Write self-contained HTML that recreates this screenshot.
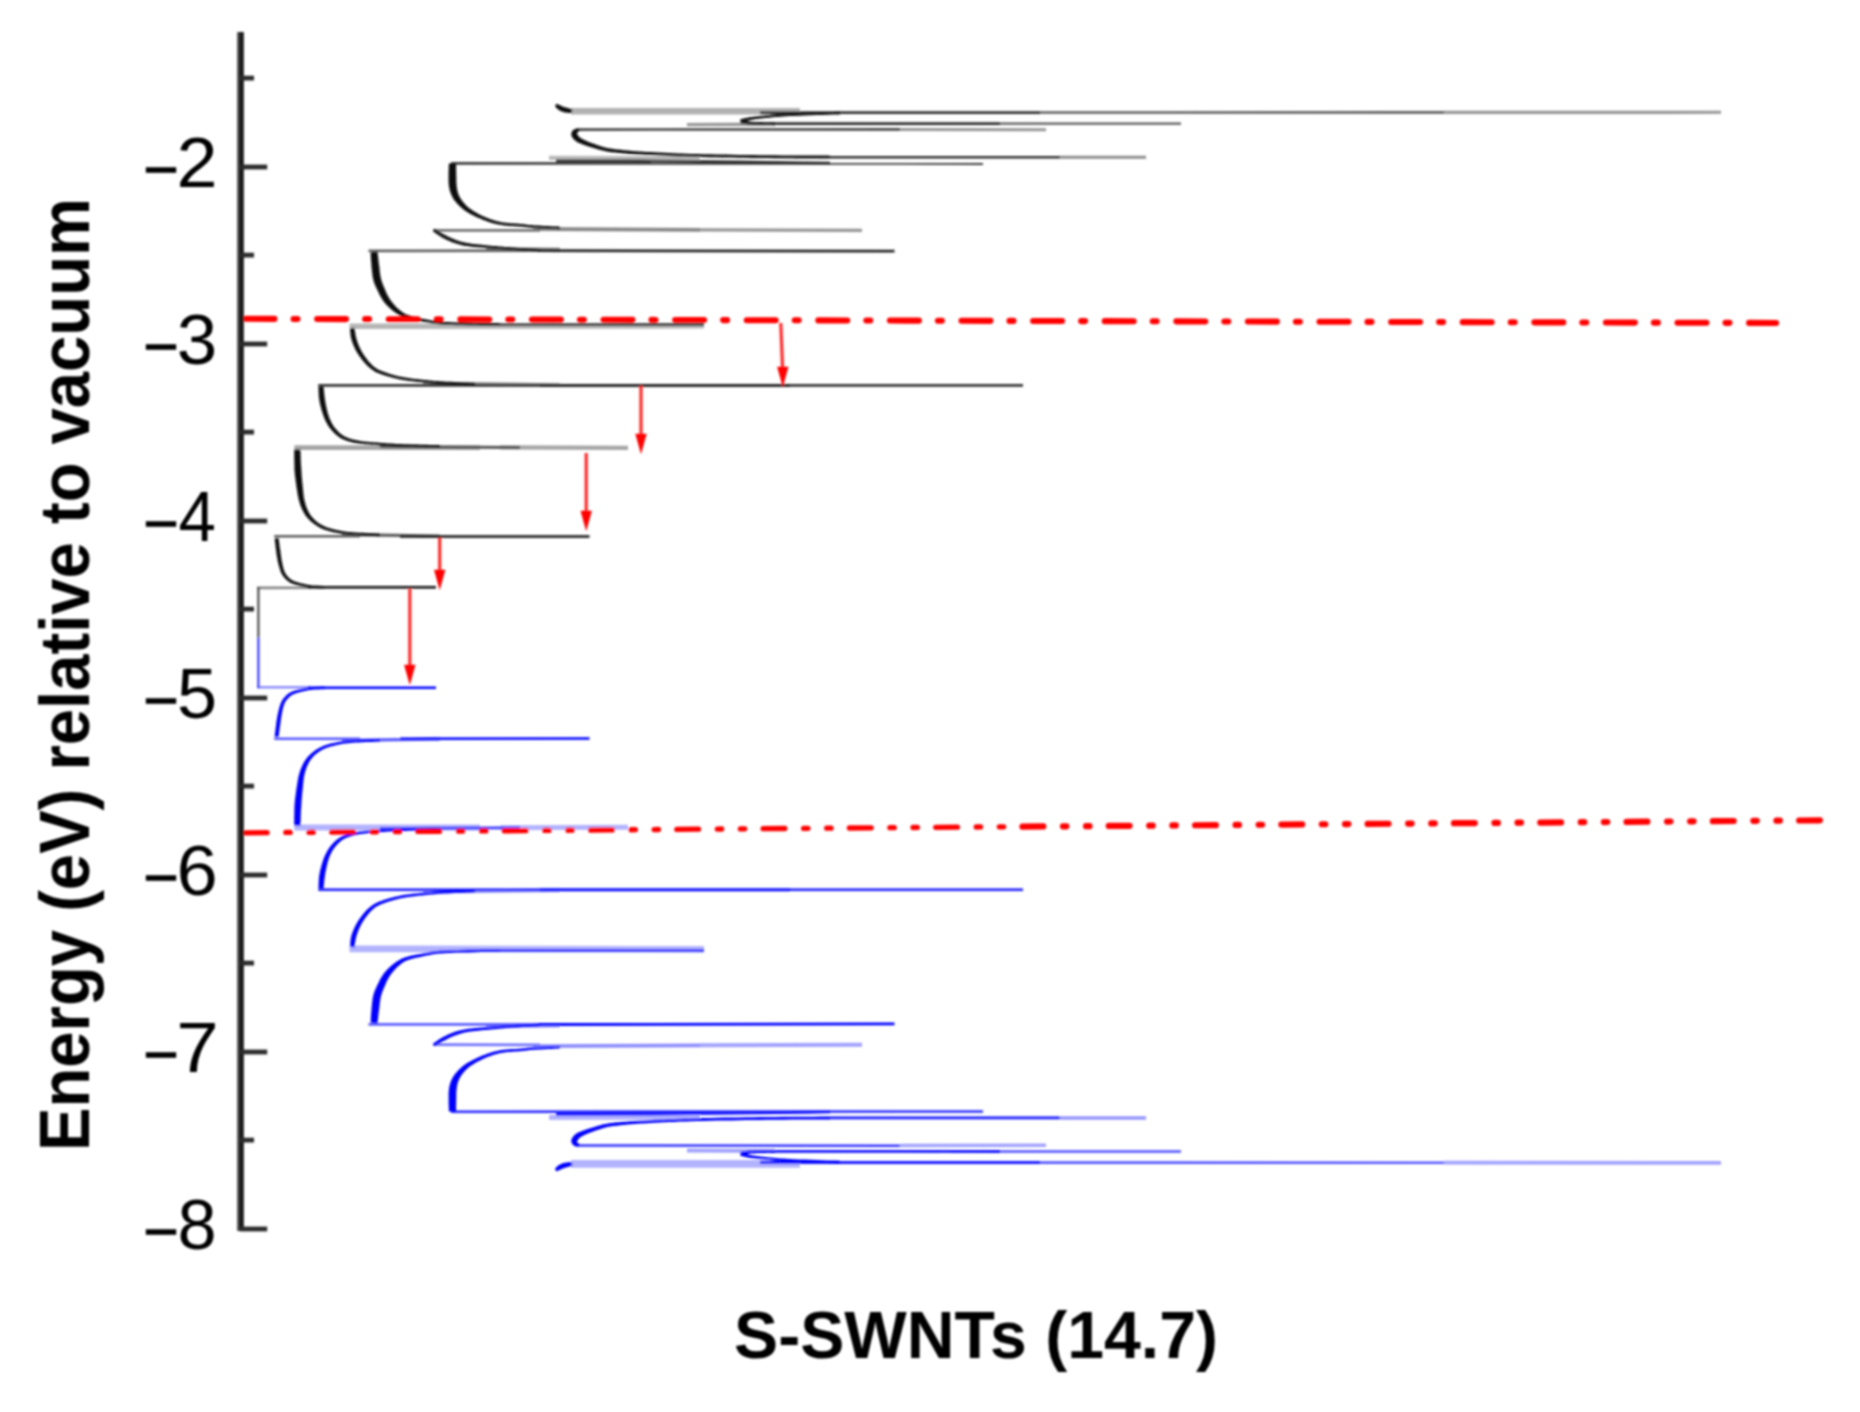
<!DOCTYPE html>
<html lang="en"><head><meta charset="utf-8"><title>S-SWNTs (14.7)</title>
<style>
html,body{margin:0;padding:0;background:#fff;}
body{width:1860px;height:1412px;overflow:hidden;}
svg{display:block;font-family:"Liberation Sans",sans-serif;}
</style></head><body>
<svg width="1860" height="1412" viewBox="0 0 1860 1412">
<defs><filter id="b" x="-2%" y="-2%" width="104%" height="104%"><feGaussianBlur stdDeviation="0.85"/></filter></defs>
<rect width="1860" height="1412" fill="#fff"/>
<g filter="url(#b)">
<g fill="none" stroke-linecap="butt" stroke-linejoin="round">
<path d="M549.0,157.8 L700.0,158.2" stroke="rgb(185,185,185)" stroke-width="4.32"/>
<path d="M349.5,326.3 L704.0,325.8" stroke="rgb(182,182,182)" stroke-width="5.52"/>
<path d="M571.0,111.3 L800.0,111.3" stroke="rgb(178,178,178)" stroke-width="6.48"/>
<path d="M500.0,447.4 L628.0,447.9" stroke="rgb(165,165,165)" stroke-width="4.08"/>
<path d="M294.4,447.6 L480.0,447.6" stroke="rgb(165,165,165)" stroke-width="4.8"/>
<path d="M1444.0,112.4 L1721.0,112.3" stroke="rgb(150,150,150)" stroke-width="3.12"/>
<path d="M687.0,124.6 L775.0,124.2" stroke="rgb(150,150,150)" stroke-width="3.36"/>
<path d="M900.0,129.5 L1046.0,129.8" stroke="rgb(150,150,150)" stroke-width="2.88"/>
<path d="M700.0,229.9 L862.0,230.4" stroke="rgb(150,150,150)" stroke-width="3.36"/>
<path d="M1060.0,157.2 L1146.0,157.2" stroke="rgb(140,140,140)" stroke-width="2.88"/>
<path d="M533.0,229.0 L700.0,229.8" stroke="rgb(135,135,135)" stroke-width="3.8"/>
<path d="M257.1,587.9 L312.0,587.8" stroke="rgb(135,135,135)" stroke-width="2.6"/>
<path d="M423.0,383.4 L560.0,385.0" stroke="rgb(130,130,130)" stroke-width="3.6"/>
<path d="M486.0,249.4 L560.0,250.0" stroke="rgb(125,125,125)" stroke-width="4.4"/>
<path d="M433.0,230.4 L540.0,230.3" stroke="rgb(115,115,115)" stroke-width="2.8"/>
<path d="M368.5,250.8 L540.0,250.7" stroke="rgb(100,100,100)" stroke-width="2.8"/>
<path d="M1040.0,112.5 L1444.0,112.4" stroke="rgb(95,95,95)" stroke-width="2.6"/>
<path d="M342.0,534.6 L440.0,536.0" stroke="rgb(95,95,95)" stroke-width="3.2"/>
<path d="M274.2,536.3 L360.0,536.3" stroke="rgb(95,95,95)" stroke-width="2.6"/>
<path d="M1000.0,123.6 L1181.0,123.6" stroke="rgb(90,90,90)" stroke-width="2.4"/>
<path d="M380.0,446.6 L520.0,447.4" stroke="rgb(85,85,85)" stroke-width="3.0"/>
<path d="M258.4,587.0 L258.4,637.5" stroke="rgb(72,72,72)" stroke-width="2.2"/>
<path d="M577.0,129.6 L900.0,129.4" stroke="rgb(70,70,70)" stroke-width="2.6"/>
<path d="M451.0,163.4 L983.0,163.6" stroke="rgb(62,62,62)" stroke-width="2.6"/>
<path d="M480.0,324.7 L704.0,324.6" stroke="rgb(60,60,60)" stroke-width="2.6"/>
<path d="M318.3,385.4 L1023.0,385.4" stroke="rgb(52,52,52)" stroke-width="2.6"/>
<path d="M760.0,112.6 L1040.0,112.6" stroke="rgb(50,50,50)" stroke-width="2.8"/>
<path d="M830.0,157.2 L1060.0,157.2" stroke="rgb(50,50,50)" stroke-width="2.6"/>
<path d="M770.0,123.7 L1000.0,123.6" stroke="rgb(45,45,45)" stroke-width="2.8"/>
<path d="M556.0,160.8 C584.0,160.9 578.7,160.6 640.0,161.0 C701.3,161.4 676.7,161.3 740.0,162.0 C803.3,162.7 800.0,162.8 830.0,163.2" stroke="rgb(45,45,45)" stroke-width="2.8"/>
<path d="M540.0,385.3 L790.0,385.3" stroke="rgb(40,40,40)" stroke-width="2.8"/>
<path d="M538.0,250.6 L894.5,251.2" stroke="rgb(35,35,35)" stroke-width="2.8"/>
<path d="M741.1,123.0 L741.5,122.9 L741.9,122.7 L742.3,122.6 L742.9,122.4 L743.4,122.2 L744.0,122.0 L744.6,121.8 L745.3,121.6 L745.8,121.4 L746.4,121.2 L747.0,121.0 L747.5,120.9 L747.9,120.7 L748.4,120.6 L748.9,120.4 L749.4,120.3 L750.0,120.2 L750.6,120.0 L751.4,119.9 L752.2,119.7 L753.2,119.6 L754.2,119.4 L755.2,119.3 L756.3,119.1 L757.5,118.9 L758.8,118.8 L760.2,118.6 L761.7,118.4 L763.3,118.3 L765.1,118.1 L767.0,117.9 L769.0,117.7 L771.0,117.5 L773.1,117.3 L775.3,117.1 L777.7,116.9 L780.4,116.7 L783.3,116.5 L786.5,116.3 L790.1,116.1 L794.3,115.9 L799.3,115.7 L804.8,115.5 L810.6,115.3 L816.6,115.1 L822.4,114.9 L827.9,114.7 L832.8,114.6 L837.0,114.5 L840.0,114.4 L840.0,111.6 L836.9,111.7 L832.8,111.9 L827.8,112.0 L822.4,112.2 L816.5,112.4 L810.6,112.5 L804.7,112.7 L799.1,112.9 L794.2,113.1 L789.9,113.3 L786.4,113.5 L783.1,113.7 L780.2,113.9 L777.5,114.1 L775.1,114.3 L772.8,114.5 L770.7,114.8 L768.7,115.0 L766.8,115.1 L764.9,115.3 L763.0,115.5 L761.4,115.7 L759.8,115.8 L758.4,116.0 L757.1,116.2 L755.9,116.3 L754.8,116.5 L753.8,116.6 L752.8,116.7 L751.8,116.9 L750.9,117.0 L750.1,117.1 L749.4,117.2 L748.7,117.3 L748.2,117.5 L747.6,117.6 L747.1,117.7 L746.6,117.8 L746.1,117.9 L745.6,118.0 L745.0,118.1 L744.3,118.3 L743.7,118.5 L743.0,118.6 L742.4,118.8 L741.8,119.0 L741.3,119.1 L740.8,119.2 L740.4,119.3 L740.1,119.4 Z" fill="rgb(20,20,20)" stroke="none"/>
<path d="M740.1,123.0 L740.4,123.1 L740.8,123.1 L741.3,123.3 L741.8,123.4 L742.4,123.5 L743.0,123.6 L743.7,123.8 L744.4,123.9 L745.0,124.0 L745.7,124.1 L746.3,124.2 L746.7,124.3 L747.2,124.3 L747.7,124.4 L748.2,124.5 L748.9,124.5 L749.6,124.6 L750.5,124.6 L751.6,124.7 L752.9,124.7 L754.6,124.8 L756.8,124.8 L759.2,124.9 L761.7,125.0 L764.4,125.0 L767.0,125.0 L769.5,125.1 L771.7,125.1 L773.6,125.2 L775.0,125.2 L775.0,122.4 L773.7,122.4 L771.8,122.4 L769.6,122.3 L767.1,122.3 L764.5,122.2 L761.8,122.1 L759.2,122.1 L756.8,122.0 L754.7,121.9 L753.1,121.9 L751.8,121.8 L750.7,121.7 L749.9,121.6 L749.2,121.5 L748.7,121.4 L748.2,121.3 L747.8,121.2 L747.4,121.1 L746.9,121.0 L746.3,120.9 L745.7,120.7 L745.1,120.6 L744.5,120.4 L743.9,120.3 L743.3,120.1 L742.8,119.9 L742.2,119.8 L741.8,119.6 L741.4,119.5 L741.1,119.4 Z" fill="rgb(20,20,20)" stroke="none"/>
<path d="M432.8,231.2 L433.4,231.6 L434.1,232.1 L435.0,232.8 L436.0,233.5 L437.0,234.2 L438.1,235.0 L439.3,235.8 L440.5,236.5 L441.7,237.3 L442.8,237.9 L444.0,238.5 L445.1,239.1 L446.3,239.7 L447.5,240.3 L448.7,240.8 L450.0,241.3 L451.2,241.9 L452.5,242.4 L453.7,242.8 L454.9,243.3 L456.1,243.6 L457.3,244.0 L458.4,244.3 L459.5,244.6 L460.7,244.9 L461.9,245.2 L463.1,245.4 L464.3,245.7 L465.6,245.9 L467.0,246.1 L468.5,246.3 L470.0,246.5 L471.4,246.7 L473.0,246.9 L474.6,247.0 L476.2,247.2 L477.9,247.3 L479.8,247.5 L481.7,247.6 L483.8,247.8 L486.0,248.0 L488.3,248.2 L490.8,248.4 L493.3,248.7 L496.0,248.9 L498.7,249.1 L501.5,249.3 L504.3,249.5 L507.1,249.7 L509.9,249.9 L512.9,250.1 L516.2,250.3 L519.6,250.5 L523.1,250.7 L526.6,250.9 L529.9,251.0 L533.0,251.2 L535.8,251.3 L538.1,251.4 L539.9,251.5 L540.1,248.9 L538.3,248.8 L535.9,248.7 L533.1,248.5 L530.0,248.4 L526.7,248.2 L523.2,248.0 L519.7,247.9 L516.3,247.7 L513.1,247.5 L510.1,247.3 L507.3,247.1 L504.5,246.9 L501.7,246.6 L498.9,246.4 L496.2,246.1 L493.6,245.9 L491.0,245.7 L488.6,245.4 L486.2,245.2 L484.0,245.0 L482.0,244.8 L480.0,244.6 L478.2,244.4 L476.5,244.2 L474.9,244.1 L473.3,243.9 L471.8,243.7 L470.4,243.5 L469.0,243.3 L467.6,243.1 L466.2,242.8 L464.9,242.6 L463.7,242.3 L462.6,242.0 L461.5,241.7 L460.4,241.4 L459.4,241.1 L458.3,240.7 L457.2,240.4 L456.1,239.9 L454.9,239.5 L453.8,239.0 L452.6,238.6 L451.4,238.0 L450.2,237.5 L449.1,237.0 L447.9,236.4 L446.8,235.8 L445.7,235.2 L444.6,234.7 L443.5,234.1 L442.3,233.5 L441.1,232.8 L440.0,232.1 L438.8,231.4 L437.7,230.8 L436.7,230.2 L435.8,229.6 L435.0,229.1 L434.4,228.8 Z" fill="rgb(20,20,20)" stroke="none"/>
<path d="M400.0,536.4 L589.5,536.6" stroke="rgb(20,20,20)" stroke-width="2.5"/>
<path d="M578.5,128.4 L578.3,128.4 L578.1,128.4 L577.7,128.4 L577.2,128.5 L576.8,128.5 L576.2,128.6 L575.7,128.7 L575.1,128.9 L574.5,129.2 L573.9,129.5 L573.5,129.9 L573.1,130.2 L572.7,130.6 L572.3,131.1 L572.0,131.6 L571.7,132.2 L571.5,132.9 L571.3,133.6 L571.2,134.4 L571.3,135.2 L571.6,135.9 L571.9,136.6 L572.2,137.2 L572.6,137.8 L573.0,138.4 L573.5,139.0 L574.0,139.6 L574.6,140.1 L575.1,140.6 L575.8,141.1 L576.4,141.6 L577.1,142.0 L577.8,142.4 L578.5,142.7 L579.2,143.0 L579.9,143.3 L580.7,143.6 L581.5,143.9 L582.3,144.2 L583.1,144.5 L584.0,144.9 L584.9,145.2 L585.9,145.5 L586.8,145.9 L587.9,146.2 L588.9,146.5 L590.0,146.9 L591.1,147.2 L592.2,147.5 L593.4,147.9 L594.6,148.2 L595.7,148.6 L597.0,149.0 L598.2,149.4 L599.5,149.7 L600.9,150.1 L602.2,150.5 L603.7,150.8 L605.1,151.1 L606.7,151.4 L608.2,151.7 L609.8,152.0 L611.5,152.2 L613.2,152.4 L614.9,152.6 L616.7,152.8 L618.5,152.9 L620.2,153.1 L622.0,153.3 L623.8,153.4 L625.5,153.6 L627.1,153.7 L628.5,153.9 L629.9,154.0 L631.4,154.1 L633.1,154.2 L635.0,154.3 L637.2,154.4 L639.8,154.6 L642.9,154.7 L646.5,154.9 L650.3,155.1 L654.5,155.3 L659.0,155.5 L663.8,155.7 L668.8,156.0 L674.1,156.2 L679.5,156.4 L685.2,156.6 L691.0,156.7 L697.0,156.9 L703.4,157.1 L710.1,157.2 L717.0,157.3 L724.1,157.5 L731.3,157.6 L738.5,157.7 L745.8,157.8 L752.9,157.9 L760.0,158.0 L767.3,158.1 L775.0,158.2 L783.1,158.3 L791.3,158.3 L799.3,158.4 L807.0,158.4 L814.1,158.4 L820.5,158.5 L825.8,158.5 L830.0,158.5 L830.0,155.7 L825.8,155.6 L820.5,155.6 L814.1,155.6 L807.0,155.5 L799.3,155.5 L791.3,155.5 L783.1,155.4 L775.1,155.3 L767.3,155.3 L760.0,155.2 L753.0,155.1 L745.8,155.0 L738.6,154.9 L731.3,154.7 L724.2,154.6 L717.1,154.5 L710.2,154.3 L703.5,154.2 L697.1,154.0 L691.0,153.9 L685.3,153.7 L679.6,153.5 L674.2,153.2 L669.0,153.0 L663.9,152.8 L659.2,152.5 L654.7,152.3 L650.5,152.1 L646.6,151.9 L643.1,151.7 L640.0,151.5 L637.4,151.3 L635.2,151.2 L633.3,151.0 L631.7,150.9 L630.2,150.8 L628.8,150.6 L627.4,150.5 L625.8,150.3 L624.2,150.2 L622.4,150.0 L620.6,149.8 L618.8,149.6 L617.0,149.4 L615.3,149.2 L613.6,149.0 L612.0,148.8 L610.4,148.5 L608.8,148.3 L607.3,148.0 L605.9,147.7 L604.5,147.3 L603.2,146.9 L601.9,146.6 L600.6,146.2 L599.4,145.7 L598.1,145.3 L596.9,144.9 L595.8,144.5 L594.6,144.1 L593.5,143.7 L592.4,143.3 L591.3,142.9 L590.3,142.5 L589.3,142.2 L588.4,141.8 L587.4,141.4 L586.6,141.0 L585.7,140.6 L584.9,140.3 L584.1,139.9 L583.4,139.5 L582.7,139.2 L582.1,138.8 L581.5,138.5 L580.9,138.2 L580.4,137.8 L580.0,137.5 L579.6,137.2 L579.2,136.9 L578.9,136.5 L578.6,136.2 L578.3,135.8 L578.0,135.4 L577.8,135.1 L577.6,134.7 L577.5,134.4 L577.3,134.1 L577.3,133.9 L577.3,133.8 L577.2,133.8 L577.1,133.9 L577.1,133.9 L577.0,133.8 L577.0,133.7 L576.9,133.6 L577.0,133.4 L577.0,133.2 L577.1,133.0 L577.1,132.9 L577.0,132.8 L577.1,132.7 L577.3,132.5 L577.6,132.3 L577.9,132.1 L578.2,131.9 L578.6,131.7 L578.9,131.5 L579.2,131.3 L579.5,131.2 Z" fill="rgb(15,15,15)" stroke="none"/>
<path d="M349.9,328.3 L350.0,328.9 L350.0,329.7 L350.1,330.7 L350.2,331.8 L350.3,333.0 L350.5,334.2 L350.6,335.5 L350.8,336.8 L351.1,338.1 L351.4,339.3 L351.7,340.5 L352.1,341.6 L352.5,342.8 L353.0,343.9 L353.4,345.1 L353.9,346.2 L354.4,347.3 L354.9,348.4 L355.4,349.4 L355.9,350.4 L356.5,351.4 L357.0,352.4 L357.6,353.3 L358.1,354.2 L358.7,355.1 L359.3,355.9 L359.9,356.8 L360.5,357.6 L361.1,358.4 L361.7,359.2 L362.4,360.1 L363.0,360.9 L363.7,361.7 L364.3,362.5 L365.0,363.2 L365.7,364.0 L366.4,364.8 L367.1,365.5 L367.9,366.2 L368.6,366.9 L369.4,367.5 L370.1,368.1 L370.8,368.7 L371.5,369.3 L372.3,369.8 L373.1,370.3 L373.9,370.9 L374.7,371.4 L375.7,371.9 L376.7,372.4 L377.7,372.9 L378.8,373.3 L380.0,373.8 L381.2,374.2 L382.4,374.7 L383.7,375.1 L385.0,375.5 L386.2,375.9 L387.5,376.3 L388.8,376.6 L390.0,377.0 L391.3,377.3 L392.5,377.7 L393.8,378.0 L395.1,378.3 L396.4,378.6 L397.7,378.9 L399.1,379.2 L400.5,379.5 L401.9,379.8 L403.4,380.0 L404.9,380.3 L406.4,380.5 L408.0,380.7 L409.5,380.9 L411.1,381.1 L412.8,381.3 L414.5,381.5 L416.3,381.7 L418.2,381.9 L420.0,382.1 L421.9,382.3 L423.8,382.5 L425.8,382.7 L427.8,383.0 L430.0,383.2 L432.2,383.4 L434.6,383.5 L437.2,383.7 L439.9,383.9 L443.0,384.1 L446.6,384.3 L450.6,384.5 L454.7,384.7 L458.8,384.8 L462.8,385.0 L466.6,385.2 L470.0,385.3 L472.8,385.4 L474.9,385.5 L475.1,382.9 L472.9,382.8 L470.1,382.7 L466.7,382.5 L462.9,382.4 L458.9,382.2 L454.8,382.0 L450.7,381.8 L446.8,381.7 L443.2,381.5 L440.1,381.3 L437.4,381.1 L434.8,380.9 L432.4,380.7 L430.2,380.5 L428.1,380.3 L426.1,380.1 L424.1,379.9 L422.2,379.7 L420.3,379.5 L418.4,379.3 L416.6,379.1 L414.8,378.9 L413.1,378.7 L411.5,378.5 L409.9,378.2 L408.3,378.0 L406.8,377.8 L405.3,377.6 L403.9,377.3 L402.5,377.0 L401.0,376.8 L399.7,376.5 L398.3,376.2 L397.0,375.9 L395.8,375.5 L394.5,375.2 L393.3,374.9 L392.1,374.5 L390.9,374.2 L389.6,373.8 L388.4,373.4 L387.2,373.0 L385.9,372.6 L384.7,372.1 L383.5,371.7 L382.3,371.3 L381.2,370.8 L380.1,370.4 L379.1,369.9 L378.1,369.4 L377.3,368.9 L376.5,368.5 L375.7,368.0 L375.0,367.5 L374.4,367.0 L373.7,366.5 L373.1,365.9 L372.5,365.4 L371.8,364.8 L371.2,364.1 L370.5,363.5 L369.9,362.8 L369.3,362.1 L368.6,361.4 L368.0,360.7 L367.4,359.9 L366.8,359.1 L366.2,358.3 L365.7,357.6 L365.1,356.8 L364.5,356.0 L364.0,355.2 L363.4,354.3 L362.9,353.5 L362.4,352.7 L361.9,351.9 L361.4,351.0 L361.0,350.2 L360.5,349.3 L360.1,348.4 L359.6,347.4 L359.2,346.4 L358.7,345.4 L358.3,344.3 L357.9,343.3 L357.5,342.2 L357.2,341.2 L356.8,340.1 L356.5,339.1 L356.2,338.1 L356.0,337.0 L355.7,335.9 L355.5,334.8 L355.3,333.6 L355.1,332.4 L355.0,331.2 L354.8,330.2 L354.7,329.2 L354.6,328.4 L354.5,327.7 Z" fill="rgb(15,15,15)" stroke="none"/>
<path d="M274.6,538.4 L274.7,539.3 L274.9,540.4 L275.0,541.8 L275.2,543.3 L275.4,544.9 L275.6,546.6 L275.8,548.2 L276.0,549.8 L276.2,551.3 L276.3,552.7 L276.5,553.9 L276.7,555.1 L276.9,556.2 L277.1,557.3 L277.3,558.3 L277.4,559.4 L277.6,560.4 L277.9,561.4 L278.1,562.4 L278.3,563.4 L278.6,564.4 L278.8,565.5 L279.1,566.5 L279.4,567.5 L279.7,568.5 L280.0,569.5 L280.3,570.5 L280.6,571.5 L281.0,572.4 L281.4,573.2 L281.8,574.1 L282.3,574.9 L282.7,575.6 L283.2,576.3 L283.7,576.9 L284.2,577.6 L284.8,578.2 L285.3,578.7 L285.8,579.3 L286.3,579.8 L286.9,580.3 L287.4,580.7 L288.0,581.2 L288.5,581.6 L289.1,582.0 L289.7,582.4 L290.3,582.7 L291.0,583.1 L291.7,583.4 L292.4,583.7 L293.2,584.0 L294.0,584.3 L294.8,584.6 L295.7,584.9 L296.6,585.1 L297.5,585.3 L298.4,585.6 L299.3,585.8 L300.3,586.0 L301.2,586.2 L302.1,586.4 L302.9,586.6 L303.8,586.8 L304.7,587.0 L305.6,587.2 L306.6,587.4 L307.6,587.5 L308.6,587.7 L309.7,587.8 L310.9,588.0 L312.2,588.1 L313.6,588.2 L315.2,588.3 L316.9,588.3 L318.5,588.4 L320.1,588.5 L321.6,588.5 L323.0,588.6 L324.1,588.6 L324.9,588.6 L325.1,586.0 L324.2,585.9 L323.1,585.9 L321.7,585.8 L320.2,585.8 L318.6,585.7 L317.0,585.6 L315.4,585.6 L313.8,585.5 L312.4,585.4 L311.1,585.2 L310.0,585.1 L309.0,585.0 L308.0,584.8 L307.1,584.6 L306.2,584.4 L305.3,584.2 L304.5,584.0 L303.6,583.8 L302.7,583.6 L301.8,583.4 L300.9,583.2 L300.0,583.0 L299.1,582.7 L298.3,582.5 L297.4,582.2 L296.6,582.0 L295.8,581.7 L295.0,581.5 L294.3,581.2 L293.6,580.9 L293.0,580.6 L292.4,580.3 L291.9,580.0 L291.4,579.7 L290.9,579.4 L290.4,579.0 L290.0,578.7 L289.6,578.3 L289.1,577.9 L288.7,577.4 L288.2,576.9 L287.7,576.4 L287.3,575.9 L286.9,575.4 L286.4,574.9 L286.0,574.3 L285.6,573.7 L285.3,573.1 L284.9,572.4 L284.6,571.8 L284.3,571.0 L284.0,570.2 L283.7,569.4 L283.5,568.5 L283.2,567.5 L283.0,566.6 L282.7,565.6 L282.5,564.6 L282.3,563.6 L282.1,562.6 L281.9,561.6 L281.7,560.6 L281.5,559.7 L281.4,558.7 L281.2,557.7 L281.1,556.6 L280.9,555.6 L280.8,554.5 L280.6,553.3 L280.5,552.1 L280.3,550.8 L280.1,549.3 L279.8,547.7 L279.6,546.0 L279.4,544.4 L279.2,542.8 L279.0,541.3 L278.8,539.9 L278.7,538.8 L278.6,538.0 Z" fill="rgb(15,15,15)" stroke="none"/>
<path d="M554.9,105.9 L555.0,106.1 L555.2,106.4 L555.4,106.6 L555.6,107.0 L555.9,107.3 L556.2,107.7 L556.6,108.1 L557.0,108.5 L557.4,108.9 L557.8,109.3 L558.2,109.6 L558.7,109.8 L559.1,110.1 L559.6,110.4 L560.1,110.7 L560.7,111.0 L561.3,111.2 L561.9,111.5 L562.6,111.8 L563.3,112.0 L564.1,112.2 L565.0,112.4 L565.9,112.5 L566.9,112.7 L567.9,112.8 L568.8,112.9 L569.7,113.0 L570.5,113.1 L571.1,113.2 L571.6,113.3 L572.4,109.1 L571.9,109.0 L571.2,108.8 L570.5,108.7 L569.6,108.5 L568.7,108.3 L567.8,108.1 L566.9,107.8 L566.1,107.6 L565.3,107.4 L564.7,107.2 L564.2,107.0 L563.7,106.9 L563.2,106.7 L562.7,106.5 L562.3,106.3 L561.8,106.1 L561.4,105.9 L561.0,105.7 L560.6,105.5 L560.2,105.3 L559.8,105.2 L559.4,105.0 L559.0,104.9 L558.7,104.7 L558.3,104.5 L557.9,104.3 L557.6,104.1 L557.3,103.9 L557.0,103.8 L556.7,103.7 Z" fill="rgb(12,12,12)" stroke="none"/>
<path d="M448.9,163.5 L448.9,164.2 L448.8,165.2 L448.8,166.3 L448.8,167.6 L448.7,169.0 L448.7,170.4 L448.6,171.9 L448.6,173.3 L448.6,174.6 L448.6,175.8 L448.6,176.9 L448.6,178.0 L448.6,179.1 L448.6,180.2 L448.6,181.2 L448.6,182.3 L448.7,183.3 L448.8,184.4 L448.9,185.5 L449.0,186.5 L449.2,187.5 L449.4,188.5 L449.6,189.5 L449.9,190.5 L450.1,191.4 L450.4,192.4 L450.7,193.3 L451.1,194.2 L451.5,195.1 L451.8,196.0 L452.3,196.8 L452.7,197.6 L453.2,198.4 L453.6,199.2 L454.1,199.9 L454.7,200.6 L455.2,201.3 L455.8,202.0 L456.4,202.7 L457.0,203.4 L457.6,204.1 L458.3,204.8 L459.0,205.5 L459.7,206.2 L460.5,206.9 L461.2,207.6 L462.0,208.3 L462.9,209.0 L463.7,209.7 L464.6,210.3 L465.4,210.9 L466.3,211.5 L467.2,212.1 L468.1,212.6 L469.0,213.2 L469.9,213.7 L470.9,214.2 L471.8,214.7 L472.8,215.2 L473.8,215.7 L474.8,216.2 L475.8,216.7 L476.9,217.2 L477.9,217.7 L479.0,218.1 L480.1,218.6 L481.2,219.1 L482.2,219.5 L483.3,219.9 L484.4,220.3 L485.4,220.7 L486.5,221.1 L487.6,221.5 L488.6,221.9 L489.7,222.2 L490.8,222.6 L491.8,222.9 L492.9,223.2 L494.0,223.5 L495.0,223.7 L496.1,224.0 L497.1,224.2 L498.1,224.4 L499.0,224.6 L500.0,224.8 L501.0,225.0 L502.1,225.1 L503.2,225.3 L504.3,225.4 L505.5,225.6 L506.9,225.7 L508.3,225.8 L509.7,225.9 L511.2,226.0 L512.8,226.1 L514.3,226.2 L515.8,226.2 L517.3,226.3 L518.8,226.4 L520.2,226.5 L521.4,226.6 L522.6,226.8 L523.6,226.9 L524.7,227.0 L525.7,227.2 L526.8,227.3 L528.1,227.5 L529.4,227.6 L531.0,227.8 L532.9,227.9 L535.2,228.1 L537.8,228.2 L540.8,228.4 L544.0,228.5 L547.2,228.7 L550.4,228.9 L553.4,229.0 L556.0,229.1 L558.3,229.2 L559.9,229.3 L560.1,226.7 L558.4,226.6 L556.2,226.5 L553.5,226.4 L550.5,226.2 L547.4,226.1 L544.1,225.9 L541.0,225.7 L538.0,225.6 L535.3,225.4 L533.1,225.3 L531.3,225.1 L529.7,225.0 L528.3,224.9 L527.1,224.7 L526.1,224.6 L525.0,224.4 L524.0,224.3 L522.9,224.1 L521.7,224.0 L520.4,223.9 L519.0,223.8 L517.5,223.7 L516.0,223.6 L514.5,223.5 L512.9,223.4 L511.4,223.3 L509.9,223.2 L508.5,223.1 L507.1,223.0 L505.9,222.8 L504.7,222.7 L503.6,222.5 L502.5,222.4 L501.5,222.2 L500.5,222.0 L499.6,221.8 L498.7,221.6 L497.7,221.4 L496.8,221.1 L495.8,220.9 L494.8,220.6 L493.8,220.3 L492.7,219.9 L491.7,219.6 L490.7,219.2 L489.7,218.9 L488.7,218.5 L487.6,218.1 L486.6,217.7 L485.6,217.3 L484.6,216.8 L483.6,216.4 L482.5,215.9 L481.5,215.4 L480.5,214.9 L479.5,214.4 L478.5,213.9 L477.5,213.4 L476.5,212.8 L475.6,212.3 L474.7,211.8 L473.8,211.2 L472.9,210.7 L472.1,210.1 L471.2,209.6 L470.4,209.0 L469.7,208.5 L468.9,207.9 L468.2,207.3 L467.4,206.7 L466.8,206.1 L466.1,205.4 L465.4,204.7 L464.8,204.0 L464.2,203.3 L463.6,202.6 L463.0,201.9 L462.4,201.2 L461.9,200.5 L461.4,199.8 L461.0,199.1 L460.6,198.5 L460.2,197.9 L459.8,197.2 L459.5,196.6 L459.2,196.0 L458.9,195.4 L458.6,194.7 L458.4,194.1 L458.2,193.4 L457.9,192.7 L457.7,192.0 L457.5,191.2 L457.3,190.5 L457.2,189.7 L457.0,188.9 L456.9,188.0 L456.8,187.2 L456.7,186.3 L456.6,185.5 L456.5,184.6 L456.4,183.8 L456.4,182.9 L456.3,182.0 L456.3,181.0 L456.3,180.0 L456.3,179.0 L456.3,178.0 L456.3,176.9 L456.2,175.8 L456.2,174.6 L456.2,173.3 L456.2,171.9 L456.1,170.5 L456.1,169.1 L456.1,167.7 L456.1,166.4 L456.1,165.3 L456.1,164.3 L456.1,163.5 Z" fill="rgb(12,12,12)" stroke="none"/>
<path d="M370.6,252.3 L370.6,253.1 L370.7,254.2 L370.8,255.5 L370.8,256.9 L370.9,258.4 L371.0,260.0 L371.1,261.6 L371.3,263.2 L371.4,264.8 L371.5,266.2 L371.6,267.6 L371.8,268.9 L371.9,270.2 L372.0,271.6 L372.2,273.0 L372.4,274.3 L372.5,275.7 L372.7,277.0 L373.0,278.3 L373.2,279.6 L373.6,280.7 L373.9,281.9 L374.2,282.9 L374.6,283.9 L375.0,284.9 L375.4,285.8 L375.8,286.7 L376.2,287.6 L376.6,288.5 L377.1,289.5 L377.6,290.5 L378.1,291.5 L378.6,292.6 L379.1,293.7 L379.7,294.9 L380.3,296.0 L380.9,297.1 L381.5,298.2 L382.2,299.2 L382.8,300.2 L383.5,301.2 L384.1,302.0 L384.8,302.9 L385.5,303.7 L386.2,304.4 L386.8,305.2 L387.5,305.9 L388.2,306.6 L388.9,307.2 L389.6,307.9 L390.3,308.6 L391.0,309.2 L391.8,309.8 L392.5,310.4 L393.3,311.0 L394.0,311.6 L394.8,312.2 L395.6,312.8 L396.4,313.3 L397.2,313.8 L398.0,314.3 L398.7,314.7 L399.4,315.2 L400.2,315.6 L401.0,316.1 L401.9,316.5 L402.8,316.9 L403.9,317.3 L405.1,317.8 L406.5,318.2 L408.0,318.6 L409.6,319.0 L411.4,319.5 L413.3,319.9 L415.3,320.4 L417.4,320.8 L419.5,321.2 L421.6,321.6 L423.7,322.0 L425.7,322.3 L427.7,322.6 L429.4,323.0 L431.0,323.3 L432.7,323.5 L434.5,323.8 L436.4,324.0 L438.6,324.3 L441.1,324.5 L444.0,324.7 L447.4,324.9 L451.7,325.0 L456.8,325.2 L462.6,325.3 L468.8,325.5 L475.1,325.6 L481.3,325.7 L487.1,325.7 L492.3,325.8 L496.7,325.9 L500.0,325.9 L500.0,323.3 L496.8,323.2 L492.4,323.1 L487.2,323.1 L481.3,323.0 L475.1,322.9 L468.8,322.7 L462.7,322.6 L456.9,322.5 L451.8,322.3 L447.6,322.1 L444.2,321.9 L441.3,321.7 L438.8,321.5 L436.7,321.3 L434.9,321.0 L433.2,320.8 L431.5,320.5 L429.9,320.2 L428.2,319.8 L426.3,319.5 L424.2,319.1 L422.2,318.7 L420.1,318.2 L418.0,317.7 L416.0,317.3 L414.1,316.8 L412.3,316.3 L410.5,315.8 L409.0,315.3 L407.5,314.8 L406.3,314.4 L405.3,313.9 L404.4,313.5 L403.7,313.1 L403.0,312.6 L402.4,312.2 L401.8,311.8 L401.1,311.3 L400.5,310.7 L399.8,310.2 L399.1,309.6 L398.4,309.1 L397.8,308.5 L397.1,307.9 L396.5,307.3 L395.9,306.7 L395.3,306.1 L394.8,305.4 L394.2,304.8 L393.6,304.1 L393.0,303.4 L392.4,302.7 L391.9,302.0 L391.4,301.3 L390.8,300.6 L390.3,299.9 L389.8,299.2 L389.3,298.4 L388.9,297.6 L388.4,296.8 L387.9,295.9 L387.4,295.0 L386.9,294.0 L386.4,292.9 L386.0,291.9 L385.5,290.8 L385.0,289.7 L384.6,288.6 L384.1,287.6 L383.7,286.5 L383.3,285.6 L382.9,284.7 L382.6,283.8 L382.3,283.0 L382.0,282.1 L381.7,281.3 L381.4,280.5 L381.2,279.7 L381.0,278.8 L380.8,277.8 L380.5,276.8 L380.3,275.7 L380.2,274.6 L380.0,273.4 L379.8,272.1 L379.7,270.8 L379.6,269.4 L379.4,268.1 L379.3,266.7 L379.1,265.4 L378.9,264.0 L378.7,262.5 L378.5,260.9 L378.3,259.3 L378.2,257.8 L378.0,256.3 L377.8,254.8 L377.7,253.6 L377.5,252.5 L377.4,251.7 Z" fill="rgb(12,12,12)" stroke="none"/>
<path d="M318.5,386.8 L318.5,387.5 L318.5,388.5 L318.6,389.6 L318.6,390.9 L318.7,392.3 L318.7,393.7 L318.8,395.2 L318.9,396.6 L319.0,398.0 L319.2,399.3 L319.4,400.5 L319.6,401.6 L319.8,402.8 L320.0,403.9 L320.3,405.0 L320.5,406.1 L320.8,407.1 L321.1,408.2 L321.4,409.2 L321.6,410.3 L322.0,411.3 L322.3,412.3 L322.6,413.3 L322.9,414.3 L323.3,415.3 L323.6,416.3 L324.0,417.3 L324.4,418.3 L324.8,419.3 L325.3,420.2 L325.7,421.2 L326.2,422.1 L326.7,423.0 L327.2,423.9 L327.7,424.8 L328.2,425.7 L328.8,426.6 L329.4,427.4 L330.0,428.3 L330.7,429.1 L331.4,430.0 L332.1,430.8 L332.9,431.6 L333.7,432.5 L334.5,433.3 L335.3,434.0 L336.2,434.8 L337.0,435.5 L337.9,436.2 L338.8,436.8 L339.6,437.4 L340.5,437.9 L341.3,438.4 L342.2,438.9 L343.1,439.3 L344.0,439.7 L344.9,440.1 L345.9,440.5 L346.9,440.8 L347.9,441.2 L349.0,441.5 L350.1,441.8 L351.2,442.1 L352.4,442.4 L353.6,442.7 L354.8,442.9 L356.0,443.1 L357.3,443.4 L358.6,443.6 L360.0,443.8 L361.3,443.9 L362.7,444.1 L364.0,444.3 L365.4,444.4 L366.8,444.5 L368.3,444.6 L369.9,444.7 L371.5,444.9 L373.3,445.0 L375.2,445.1 L377.2,445.3 L379.3,445.4 L381.4,445.6 L383.7,445.8 L386.0,445.9 L388.5,446.1 L391.1,446.3 L393.9,446.4 L396.8,446.6 L399.9,446.7 L403.5,446.8 L407.6,447.0 L412.1,447.1 L416.8,447.2 L421.5,447.3 L426.1,447.4 L430.4,447.5 L434.3,447.6 L437.5,447.7 L440.0,447.7 L440.0,445.1 L437.6,445.0 L434.3,445.0 L430.5,444.9 L426.2,444.8 L421.6,444.7 L416.8,444.6 L412.2,444.5 L407.7,444.3 L403.6,444.2 L400.1,444.1 L396.9,443.9 L394.0,443.8 L391.2,443.6 L388.6,443.5 L386.2,443.3 L383.9,443.1 L381.6,443.0 L379.5,442.8 L377.4,442.6 L375.4,442.5 L373.5,442.3 L371.7,442.2 L370.1,442.1 L368.5,442.0 L367.1,441.8 L365.7,441.7 L364.3,441.6 L363.0,441.4 L361.7,441.2 L360.4,441.0 L359.1,440.8 L357.8,440.6 L356.6,440.3 L355.4,440.1 L354.2,439.8 L353.1,439.5 L352.0,439.2 L350.9,438.9 L349.9,438.6 L348.9,438.2 L347.9,437.9 L347.0,437.5 L346.2,437.1 L345.3,436.8 L344.6,436.4 L343.8,436.0 L343.1,435.5 L342.3,435.0 L341.6,434.5 L340.8,434.0 L340.1,433.4 L339.4,432.7 L338.6,432.1 L337.9,431.3 L337.2,430.6 L336.5,429.8 L335.8,429.0 L335.1,428.2 L334.5,427.4 L333.9,426.7 L333.4,425.9 L332.9,425.1 L332.4,424.3 L331.9,423.5 L331.5,422.7 L331.1,421.8 L330.7,421.0 L330.3,420.1 L329.9,419.3 L329.5,418.4 L329.2,417.5 L328.9,416.6 L328.5,415.7 L328.3,414.8 L328.0,413.8 L327.7,412.9 L327.5,411.9 L327.2,410.9 L327.0,409.9 L326.8,408.9 L326.5,407.9 L326.3,406.9 L326.1,405.9 L325.9,404.9 L325.7,403.8 L325.5,402.8 L325.3,401.8 L325.1,400.7 L325.0,399.6 L324.8,398.5 L324.7,397.4 L324.5,396.1 L324.3,394.7 L324.2,393.3 L324.1,391.9 L323.9,390.5 L323.8,389.3 L323.7,388.1 L323.6,387.2 L323.5,386.4 Z" fill="rgb(12,12,12)" stroke="none"/>
<path d="M294.2,449.6 L294.2,450.8 L294.2,452.3 L294.2,454.2 L294.2,456.3 L294.2,458.5 L294.3,460.9 L294.3,463.2 L294.4,465.5 L294.4,467.8 L294.5,469.8 L294.7,471.7 L294.8,473.6 L295.0,475.5 L295.2,477.3 L295.5,479.2 L295.7,480.9 L295.9,482.7 L296.2,484.4 L296.4,486.1 L296.6,487.7 L296.9,489.2 L297.1,490.8 L297.4,492.3 L297.6,493.7 L297.8,495.2 L298.1,496.6 L298.4,498.0 L298.7,499.4 L299.1,500.8 L299.5,502.2 L299.9,503.5 L300.3,504.9 L300.8,506.2 L301.3,507.4 L301.9,508.7 L302.4,509.9 L303.0,511.1 L303.6,512.2 L304.2,513.3 L304.9,514.4 L305.6,515.4 L306.3,516.4 L307.0,517.4 L307.8,518.3 L308.6,519.1 L309.4,519.9 L310.2,520.7 L311.0,521.5 L311.9,522.2 L312.8,522.9 L313.6,523.6 L314.6,524.3 L315.5,525.0 L316.4,525.6 L317.4,526.2 L318.4,526.8 L319.5,527.4 L320.5,527.9 L321.6,528.4 L322.7,528.9 L323.8,529.4 L324.9,529.8 L326.1,530.2 L327.3,530.6 L328.5,530.9 L329.7,531.3 L331.0,531.6 L332.3,531.9 L333.6,532.2 L334.9,532.4 L336.2,532.7 L337.4,533.0 L338.7,533.2 L339.9,533.5 L341.2,533.7 L342.6,533.9 L344.2,534.1 L345.9,534.3 L347.8,534.5 L349.9,534.7 L352.4,534.9 L355.4,535.1 L358.8,535.3 L362.3,535.5 L365.9,535.7 L369.4,535.8 L372.7,536.0 L375.6,536.1 L378.1,536.2 L379.9,536.3 L380.1,533.7 L378.2,533.6 L375.7,533.5 L372.8,533.3 L369.5,533.2 L366.0,533.0 L362.4,532.8 L358.9,532.7 L355.6,532.5 L352.6,532.3 L350.1,532.1 L348.0,531.9 L346.2,531.7 L344.5,531.5 L343.0,531.3 L341.7,531.0 L340.4,530.8 L339.2,530.6 L338.0,530.3 L336.8,530.0 L335.5,529.8 L334.2,529.4 L332.9,529.1 L331.7,528.8 L330.5,528.5 L329.3,528.1 L328.2,527.8 L327.1,527.4 L326.0,527.0 L325.0,526.5 L323.9,526.1 L322.9,525.6 L321.9,525.1 L321.0,524.6 L320.1,524.0 L319.2,523.4 L318.3,522.9 L317.5,522.2 L316.6,521.6 L315.8,520.9 L315.0,520.3 L314.3,519.5 L313.6,518.8 L312.9,518.1 L312.2,517.3 L311.6,516.5 L310.9,515.7 L310.3,514.9 L309.8,514.0 L309.2,513.1 L308.7,512.2 L308.2,511.2 L307.7,510.2 L307.2,509.1 L306.8,508.0 L306.3,506.9 L305.9,505.7 L305.6,504.5 L305.2,503.3 L304.9,502.1 L304.5,500.8 L304.3,499.6 L304.0,498.3 L303.8,497.0 L303.7,495.7 L303.5,494.4 L303.3,493.0 L303.2,491.5 L303.1,490.0 L302.9,488.5 L302.8,486.9 L302.6,485.3 L302.4,483.6 L302.2,482.0 L302.1,480.2 L301.9,478.5 L301.8,476.7 L301.6,474.9 L301.5,473.1 L301.4,471.2 L301.3,469.4 L301.2,467.4 L301.0,465.3 L300.9,463.0 L300.8,460.7 L300.7,458.4 L300.7,456.1 L300.6,454.1 L300.5,452.2 L300.4,450.6 L300.4,449.4 Z" fill="rgb(12,12,12)" stroke="none"/>
<path d="M308.0,587.3 L436.0,587.3" stroke="rgb(12,12,12)" stroke-width="2.6"/>
</g>
<g fill="none" stroke-linecap="butt" stroke-linejoin="round" transform="translate(0,1275.1) scale(1,-1)">
<path d="M549.0,157.8 L700.0,158.2" stroke="rgb(178,178,255)" stroke-width="5.22"/>
<path d="M349.5,326.3 L704.0,325.8" stroke="rgb(178,178,255)" stroke-width="6.67"/>
<path d="M571.0,111.3 L800.0,111.3" stroke="rgb(178,178,255)" stroke-width="7.83"/>
<path d="M500.0,447.4 L628.0,447.9" stroke="rgb(178,178,255)" stroke-width="4.93"/>
<path d="M294.4,447.6 L480.0,447.6" stroke="rgb(178,178,255)" stroke-width="5.8"/>
<path d="M1444.0,112.4 L1721.0,112.3" stroke="rgb(162,162,255)" stroke-width="3.77"/>
<path d="M687.0,124.6 L775.0,124.2" stroke="rgb(162,162,255)" stroke-width="4.06"/>
<path d="M900.0,129.5 L1046.0,129.8" stroke="rgb(162,162,255)" stroke-width="3.48"/>
<path d="M700.0,229.9 L862.0,230.4" stroke="rgb(162,162,255)" stroke-width="4.06"/>
<path d="M1060.0,157.2 L1146.0,157.2" stroke="rgb(148,148,255)" stroke-width="3.48"/>
<path d="M533.0,229.0 L700.0,229.8" stroke="rgb(141,141,255)" stroke-width="3.8"/>
<path d="M257.1,587.9 L312.0,587.8" stroke="rgb(141,141,255)" stroke-width="2.6"/>
<path d="M423.0,383.4 L560.0,385.0" stroke="rgb(135,135,255)" stroke-width="3.6"/>
<path d="M486.0,249.4 L560.0,250.0" stroke="rgb(128,128,255)" stroke-width="4.4"/>
<path d="M433.0,230.4 L540.0,230.3" stroke="rgb(114,114,255)" stroke-width="2.8"/>
<path d="M368.5,250.8 L540.0,250.7" stroke="rgb(94,94,255)" stroke-width="2.8"/>
<path d="M1040.0,112.5 L1444.0,112.4" stroke="rgb(87,87,255)" stroke-width="2.6"/>
<path d="M342.0,534.6 L440.0,536.0" stroke="rgb(87,87,255)" stroke-width="3.2"/>
<path d="M274.2,536.3 L360.0,536.3" stroke="rgb(87,87,255)" stroke-width="2.6"/>
<path d="M1000.0,123.6 L1181.0,123.6" stroke="rgb(81,81,255)" stroke-width="2.4"/>
<path d="M380.0,446.6 L520.0,447.4" stroke="rgb(74,74,255)" stroke-width="3.0"/>
<path d="M258.4,587.0 L258.4,637.5" stroke="rgb(56,56,255)" stroke-width="2.2"/>
<path d="M577.0,129.6 L900.0,129.4" stroke="rgb(54,54,255)" stroke-width="2.6"/>
<path d="M451.0,163.4 L983.0,163.6" stroke="rgb(43,43,255)" stroke-width="2.6"/>
<path d="M480.0,324.7 L704.0,324.6" stroke="rgb(40,40,255)" stroke-width="2.6"/>
<path d="M318.3,385.4 L1023.0,385.4" stroke="rgb(29,29,255)" stroke-width="2.6"/>
<path d="M760.0,112.6 L1040.0,112.6" stroke="rgb(27,27,255)" stroke-width="2.8"/>
<path d="M830.0,157.2 L1060.0,157.2" stroke="rgb(27,27,255)" stroke-width="2.6"/>
<path d="M770.0,123.7 L1000.0,123.6" stroke="rgb(20,20,255)" stroke-width="2.8"/>
<path d="M556.0,160.8 C584.0,160.9 578.7,160.6 640.0,161.0 C701.3,161.4 676.7,161.3 740.0,162.0 C803.3,162.7 800.0,162.8 830.0,163.2" stroke="rgb(20,20,255)" stroke-width="2.8"/>
<path d="M540.0,385.3 L790.0,385.3" stroke="rgb(13,13,255)" stroke-width="2.8"/>
<path d="M538.0,250.6 L894.5,251.2" stroke="rgb(6,6,255)" stroke-width="2.8"/>
<path d="M741.1,123.0 L741.5,122.9 L741.9,122.7 L742.3,122.6 L742.9,122.4 L743.4,122.2 L744.0,122.0 L744.6,121.8 L745.3,121.6 L745.8,121.4 L746.4,121.2 L747.0,121.0 L747.5,120.9 L747.9,120.7 L748.4,120.6 L748.9,120.4 L749.4,120.3 L750.0,120.2 L750.6,120.0 L751.4,119.9 L752.2,119.7 L753.2,119.6 L754.2,119.4 L755.2,119.3 L756.3,119.1 L757.5,118.9 L758.8,118.8 L760.2,118.6 L761.7,118.4 L763.3,118.3 L765.1,118.1 L767.0,117.9 L769.0,117.7 L771.0,117.5 L773.1,117.3 L775.3,117.1 L777.7,116.9 L780.4,116.7 L783.3,116.5 L786.5,116.3 L790.1,116.1 L794.3,115.9 L799.3,115.7 L804.8,115.5 L810.6,115.3 L816.6,115.1 L822.4,114.9 L827.9,114.7 L832.8,114.6 L837.0,114.5 L840.0,114.4 L840.0,111.6 L836.9,111.7 L832.8,111.9 L827.8,112.0 L822.4,112.2 L816.5,112.4 L810.6,112.5 L804.7,112.7 L799.1,112.9 L794.2,113.1 L789.9,113.3 L786.4,113.5 L783.1,113.7 L780.2,113.9 L777.5,114.1 L775.1,114.3 L772.8,114.5 L770.7,114.8 L768.7,115.0 L766.8,115.1 L764.9,115.3 L763.0,115.5 L761.4,115.7 L759.8,115.8 L758.4,116.0 L757.1,116.2 L755.9,116.3 L754.8,116.5 L753.8,116.6 L752.8,116.7 L751.8,116.9 L750.9,117.0 L750.1,117.1 L749.4,117.2 L748.7,117.3 L748.2,117.5 L747.6,117.6 L747.1,117.7 L746.6,117.8 L746.1,117.9 L745.6,118.0 L745.0,118.1 L744.3,118.3 L743.7,118.5 L743.0,118.6 L742.4,118.8 L741.8,119.0 L741.3,119.1 L740.8,119.2 L740.4,119.3 L740.1,119.4 Z" fill="rgb(0,0,255)" stroke="none"/>
<path d="M740.1,123.0 L740.4,123.1 L740.8,123.1 L741.3,123.3 L741.8,123.4 L742.4,123.5 L743.0,123.6 L743.7,123.8 L744.4,123.9 L745.0,124.0 L745.7,124.1 L746.3,124.2 L746.7,124.3 L747.2,124.3 L747.7,124.4 L748.2,124.5 L748.9,124.5 L749.6,124.6 L750.5,124.6 L751.6,124.7 L752.9,124.7 L754.6,124.8 L756.8,124.8 L759.2,124.9 L761.7,125.0 L764.4,125.0 L767.0,125.0 L769.5,125.1 L771.7,125.1 L773.6,125.2 L775.0,125.2 L775.0,122.4 L773.7,122.4 L771.8,122.4 L769.6,122.3 L767.1,122.3 L764.5,122.2 L761.8,122.1 L759.2,122.1 L756.8,122.0 L754.7,121.9 L753.1,121.9 L751.8,121.8 L750.7,121.7 L749.9,121.6 L749.2,121.5 L748.7,121.4 L748.2,121.3 L747.8,121.2 L747.4,121.1 L746.9,121.0 L746.3,120.9 L745.7,120.7 L745.1,120.6 L744.5,120.4 L743.9,120.3 L743.3,120.1 L742.8,119.9 L742.2,119.8 L741.8,119.6 L741.4,119.5 L741.1,119.4 Z" fill="rgb(0,0,255)" stroke="none"/>
<path d="M432.8,231.2 L433.4,231.6 L434.1,232.1 L435.0,232.8 L436.0,233.5 L437.0,234.2 L438.1,235.0 L439.3,235.8 L440.5,236.5 L441.7,237.3 L442.8,237.9 L444.0,238.5 L445.1,239.1 L446.3,239.7 L447.5,240.3 L448.7,240.8 L450.0,241.3 L451.2,241.9 L452.5,242.4 L453.7,242.8 L454.9,243.3 L456.1,243.6 L457.3,244.0 L458.4,244.3 L459.5,244.6 L460.7,244.9 L461.9,245.2 L463.1,245.4 L464.3,245.7 L465.6,245.9 L467.0,246.1 L468.5,246.3 L470.0,246.5 L471.4,246.7 L473.0,246.9 L474.6,247.0 L476.2,247.2 L477.9,247.3 L479.8,247.5 L481.7,247.6 L483.8,247.8 L486.0,248.0 L488.3,248.2 L490.8,248.4 L493.3,248.7 L496.0,248.9 L498.7,249.1 L501.5,249.3 L504.3,249.5 L507.1,249.7 L509.9,249.9 L512.9,250.1 L516.2,250.3 L519.6,250.5 L523.1,250.7 L526.6,250.9 L529.9,251.0 L533.0,251.2 L535.8,251.3 L538.1,251.4 L539.9,251.5 L540.1,248.9 L538.3,248.8 L535.9,248.7 L533.1,248.5 L530.0,248.4 L526.7,248.2 L523.2,248.0 L519.7,247.9 L516.3,247.7 L513.1,247.5 L510.1,247.3 L507.3,247.1 L504.5,246.9 L501.7,246.6 L498.9,246.4 L496.2,246.1 L493.6,245.9 L491.0,245.7 L488.6,245.4 L486.2,245.2 L484.0,245.0 L482.0,244.8 L480.0,244.6 L478.2,244.4 L476.5,244.2 L474.9,244.1 L473.3,243.9 L471.8,243.7 L470.4,243.5 L469.0,243.3 L467.6,243.1 L466.2,242.8 L464.9,242.6 L463.7,242.3 L462.6,242.0 L461.5,241.7 L460.4,241.4 L459.4,241.1 L458.3,240.7 L457.2,240.4 L456.1,239.9 L454.9,239.5 L453.8,239.0 L452.6,238.6 L451.4,238.0 L450.2,237.5 L449.1,237.0 L447.9,236.4 L446.8,235.8 L445.7,235.2 L444.6,234.7 L443.5,234.1 L442.3,233.5 L441.1,232.8 L440.0,232.1 L438.8,231.4 L437.7,230.8 L436.7,230.2 L435.8,229.6 L435.0,229.1 L434.4,228.8 Z" fill="rgb(0,0,255)" stroke="none"/>
<path d="M400.0,536.4 L589.5,536.6" stroke="rgb(0,0,255)" stroke-width="2.5"/>
<path d="M578.5,128.4 L578.3,128.4 L578.1,128.4 L577.7,128.4 L577.2,128.5 L576.8,128.5 L576.2,128.6 L575.7,128.7 L575.1,128.9 L574.5,129.2 L573.9,129.5 L573.5,129.9 L573.1,130.2 L572.7,130.6 L572.3,131.1 L572.0,131.6 L571.7,132.2 L571.5,132.9 L571.3,133.6 L571.2,134.4 L571.3,135.2 L571.6,135.9 L571.9,136.6 L572.2,137.2 L572.6,137.8 L573.0,138.4 L573.5,139.0 L574.0,139.6 L574.6,140.1 L575.1,140.6 L575.8,141.1 L576.4,141.6 L577.1,142.0 L577.8,142.4 L578.5,142.7 L579.2,143.0 L579.9,143.3 L580.7,143.6 L581.5,143.9 L582.3,144.2 L583.1,144.5 L584.0,144.9 L584.9,145.2 L585.9,145.5 L586.8,145.9 L587.9,146.2 L588.9,146.5 L590.0,146.9 L591.1,147.2 L592.2,147.5 L593.4,147.9 L594.6,148.2 L595.7,148.6 L597.0,149.0 L598.2,149.4 L599.5,149.7 L600.9,150.1 L602.2,150.5 L603.7,150.8 L605.1,151.1 L606.7,151.4 L608.2,151.7 L609.8,152.0 L611.5,152.2 L613.2,152.4 L614.9,152.6 L616.7,152.8 L618.5,152.9 L620.2,153.1 L622.0,153.3 L623.8,153.4 L625.5,153.6 L627.1,153.7 L628.5,153.9 L629.9,154.0 L631.4,154.1 L633.1,154.2 L635.0,154.3 L637.2,154.4 L639.8,154.6 L642.9,154.7 L646.5,154.9 L650.3,155.1 L654.5,155.3 L659.0,155.5 L663.8,155.7 L668.8,156.0 L674.1,156.2 L679.5,156.4 L685.2,156.6 L691.0,156.7 L697.0,156.9 L703.4,157.1 L710.1,157.2 L717.0,157.3 L724.1,157.5 L731.3,157.6 L738.5,157.7 L745.8,157.8 L752.9,157.9 L760.0,158.0 L767.3,158.1 L775.0,158.2 L783.1,158.3 L791.3,158.3 L799.3,158.4 L807.0,158.4 L814.1,158.4 L820.5,158.5 L825.8,158.5 L830.0,158.5 L830.0,155.7 L825.8,155.6 L820.5,155.6 L814.1,155.6 L807.0,155.5 L799.3,155.5 L791.3,155.5 L783.1,155.4 L775.1,155.3 L767.3,155.3 L760.0,155.2 L753.0,155.1 L745.8,155.0 L738.6,154.9 L731.3,154.7 L724.2,154.6 L717.1,154.5 L710.2,154.3 L703.5,154.2 L697.1,154.0 L691.0,153.9 L685.3,153.7 L679.6,153.5 L674.2,153.2 L669.0,153.0 L663.9,152.8 L659.2,152.5 L654.7,152.3 L650.5,152.1 L646.6,151.9 L643.1,151.7 L640.0,151.5 L637.4,151.3 L635.2,151.2 L633.3,151.0 L631.7,150.9 L630.2,150.8 L628.8,150.6 L627.4,150.5 L625.8,150.3 L624.2,150.2 L622.4,150.0 L620.6,149.8 L618.8,149.6 L617.0,149.4 L615.3,149.2 L613.6,149.0 L612.0,148.8 L610.4,148.5 L608.8,148.3 L607.3,148.0 L605.9,147.7 L604.5,147.3 L603.2,146.9 L601.9,146.6 L600.6,146.2 L599.4,145.7 L598.1,145.3 L596.9,144.9 L595.8,144.5 L594.6,144.1 L593.5,143.7 L592.4,143.3 L591.3,142.9 L590.3,142.5 L589.3,142.2 L588.4,141.8 L587.4,141.4 L586.6,141.0 L585.7,140.6 L584.9,140.3 L584.1,139.9 L583.4,139.5 L582.7,139.2 L582.1,138.8 L581.5,138.5 L580.9,138.2 L580.4,137.8 L580.0,137.5 L579.6,137.2 L579.2,136.9 L578.9,136.5 L578.6,136.2 L578.3,135.8 L578.0,135.4 L577.8,135.1 L577.6,134.7 L577.5,134.4 L577.3,134.1 L577.3,133.9 L577.3,133.8 L577.2,133.8 L577.1,133.9 L577.1,133.9 L577.0,133.8 L577.0,133.7 L576.9,133.6 L577.0,133.4 L577.0,133.2 L577.1,133.0 L577.1,132.9 L577.0,132.8 L577.1,132.7 L577.3,132.5 L577.6,132.3 L577.9,132.1 L578.2,131.9 L578.6,131.7 L578.9,131.5 L579.2,131.3 L579.5,131.2 Z" fill="rgb(0,0,255)" stroke="none"/>
<path d="M349.9,328.3 L350.0,328.9 L350.0,329.7 L350.1,330.7 L350.2,331.8 L350.3,333.0 L350.5,334.2 L350.6,335.5 L350.8,336.8 L351.1,338.1 L351.4,339.3 L351.7,340.5 L352.1,341.6 L352.5,342.8 L353.0,343.9 L353.4,345.1 L353.9,346.2 L354.4,347.3 L354.9,348.4 L355.4,349.4 L355.9,350.4 L356.5,351.4 L357.0,352.4 L357.6,353.3 L358.1,354.2 L358.7,355.1 L359.3,355.9 L359.9,356.8 L360.5,357.6 L361.1,358.4 L361.7,359.2 L362.4,360.1 L363.0,360.9 L363.7,361.7 L364.3,362.5 L365.0,363.2 L365.7,364.0 L366.4,364.8 L367.1,365.5 L367.9,366.2 L368.6,366.9 L369.4,367.5 L370.1,368.1 L370.8,368.7 L371.5,369.3 L372.3,369.8 L373.1,370.3 L373.9,370.9 L374.7,371.4 L375.7,371.9 L376.7,372.4 L377.7,372.9 L378.8,373.3 L380.0,373.8 L381.2,374.2 L382.4,374.7 L383.7,375.1 L385.0,375.5 L386.2,375.9 L387.5,376.3 L388.8,376.6 L390.0,377.0 L391.3,377.3 L392.5,377.7 L393.8,378.0 L395.1,378.3 L396.4,378.6 L397.7,378.9 L399.1,379.2 L400.5,379.5 L401.9,379.8 L403.4,380.0 L404.9,380.3 L406.4,380.5 L408.0,380.7 L409.5,380.9 L411.1,381.1 L412.8,381.3 L414.5,381.5 L416.3,381.7 L418.2,381.9 L420.0,382.1 L421.9,382.3 L423.8,382.5 L425.8,382.7 L427.8,383.0 L430.0,383.2 L432.2,383.4 L434.6,383.5 L437.2,383.7 L439.9,383.9 L443.0,384.1 L446.6,384.3 L450.6,384.5 L454.7,384.7 L458.8,384.8 L462.8,385.0 L466.6,385.2 L470.0,385.3 L472.8,385.4 L474.9,385.5 L475.1,382.9 L472.9,382.8 L470.1,382.7 L466.7,382.5 L462.9,382.4 L458.9,382.2 L454.8,382.0 L450.7,381.8 L446.8,381.7 L443.2,381.5 L440.1,381.3 L437.4,381.1 L434.8,380.9 L432.4,380.7 L430.2,380.5 L428.1,380.3 L426.1,380.1 L424.1,379.9 L422.2,379.7 L420.3,379.5 L418.4,379.3 L416.6,379.1 L414.8,378.9 L413.1,378.7 L411.5,378.5 L409.9,378.2 L408.3,378.0 L406.8,377.8 L405.3,377.6 L403.9,377.3 L402.5,377.0 L401.0,376.8 L399.7,376.5 L398.3,376.2 L397.0,375.9 L395.8,375.5 L394.5,375.2 L393.3,374.9 L392.1,374.5 L390.9,374.2 L389.6,373.8 L388.4,373.4 L387.2,373.0 L385.9,372.6 L384.7,372.1 L383.5,371.7 L382.3,371.3 L381.2,370.8 L380.1,370.4 L379.1,369.9 L378.1,369.4 L377.3,368.9 L376.5,368.5 L375.7,368.0 L375.0,367.5 L374.4,367.0 L373.7,366.5 L373.1,365.9 L372.5,365.4 L371.8,364.8 L371.2,364.1 L370.5,363.5 L369.9,362.8 L369.3,362.1 L368.6,361.4 L368.0,360.7 L367.4,359.9 L366.8,359.1 L366.2,358.3 L365.7,357.6 L365.1,356.8 L364.5,356.0 L364.0,355.2 L363.4,354.3 L362.9,353.5 L362.4,352.7 L361.9,351.9 L361.4,351.0 L361.0,350.2 L360.5,349.3 L360.1,348.4 L359.6,347.4 L359.2,346.4 L358.7,345.4 L358.3,344.3 L357.9,343.3 L357.5,342.2 L357.2,341.2 L356.8,340.1 L356.5,339.1 L356.2,338.1 L356.0,337.0 L355.7,335.9 L355.5,334.8 L355.3,333.6 L355.1,332.4 L355.0,331.2 L354.8,330.2 L354.7,329.2 L354.6,328.4 L354.5,327.7 Z" fill="rgb(0,0,255)" stroke="none"/>
<path d="M274.6,538.4 L274.7,539.3 L274.9,540.4 L275.0,541.8 L275.2,543.3 L275.4,544.9 L275.6,546.6 L275.8,548.2 L276.0,549.8 L276.2,551.3 L276.3,552.7 L276.5,553.9 L276.7,555.1 L276.9,556.2 L277.1,557.3 L277.3,558.3 L277.4,559.4 L277.6,560.4 L277.9,561.4 L278.1,562.4 L278.3,563.4 L278.6,564.4 L278.8,565.5 L279.1,566.5 L279.4,567.5 L279.7,568.5 L280.0,569.5 L280.3,570.5 L280.6,571.5 L281.0,572.4 L281.4,573.2 L281.8,574.1 L282.3,574.9 L282.7,575.6 L283.2,576.3 L283.7,576.9 L284.2,577.6 L284.8,578.2 L285.3,578.7 L285.8,579.3 L286.3,579.8 L286.9,580.3 L287.4,580.7 L288.0,581.2 L288.5,581.6 L289.1,582.0 L289.7,582.4 L290.3,582.7 L291.0,583.1 L291.7,583.4 L292.4,583.7 L293.2,584.0 L294.0,584.3 L294.8,584.6 L295.7,584.9 L296.6,585.1 L297.5,585.3 L298.4,585.6 L299.3,585.8 L300.3,586.0 L301.2,586.2 L302.1,586.4 L302.9,586.6 L303.8,586.8 L304.7,587.0 L305.6,587.2 L306.6,587.4 L307.6,587.5 L308.6,587.7 L309.7,587.8 L310.9,588.0 L312.2,588.1 L313.6,588.2 L315.2,588.3 L316.9,588.3 L318.5,588.4 L320.1,588.5 L321.6,588.5 L323.0,588.6 L324.1,588.6 L324.9,588.6 L325.1,586.0 L324.2,585.9 L323.1,585.9 L321.7,585.8 L320.2,585.8 L318.6,585.7 L317.0,585.6 L315.4,585.6 L313.8,585.5 L312.4,585.4 L311.1,585.2 L310.0,585.1 L309.0,585.0 L308.0,584.8 L307.1,584.6 L306.2,584.4 L305.3,584.2 L304.5,584.0 L303.6,583.8 L302.7,583.6 L301.8,583.4 L300.9,583.2 L300.0,583.0 L299.1,582.7 L298.3,582.5 L297.4,582.2 L296.6,582.0 L295.8,581.7 L295.0,581.5 L294.3,581.2 L293.6,580.9 L293.0,580.6 L292.4,580.3 L291.9,580.0 L291.4,579.7 L290.9,579.4 L290.4,579.0 L290.0,578.7 L289.6,578.3 L289.1,577.9 L288.7,577.4 L288.2,576.9 L287.7,576.4 L287.3,575.9 L286.9,575.4 L286.4,574.9 L286.0,574.3 L285.6,573.7 L285.3,573.1 L284.9,572.4 L284.6,571.8 L284.3,571.0 L284.0,570.2 L283.7,569.4 L283.5,568.5 L283.2,567.5 L283.0,566.6 L282.7,565.6 L282.5,564.6 L282.3,563.6 L282.1,562.6 L281.9,561.6 L281.7,560.6 L281.5,559.7 L281.4,558.7 L281.2,557.7 L281.1,556.6 L280.9,555.6 L280.8,554.5 L280.6,553.3 L280.5,552.1 L280.3,550.8 L280.1,549.3 L279.8,547.7 L279.6,546.0 L279.4,544.4 L279.2,542.8 L279.0,541.3 L278.8,539.9 L278.7,538.8 L278.6,538.0 Z" fill="rgb(0,0,255)" stroke="none"/>
<path d="M554.9,105.9 L555.0,106.1 L555.2,106.4 L555.4,106.6 L555.6,107.0 L555.9,107.3 L556.2,107.7 L556.6,108.1 L557.0,108.5 L557.4,108.9 L557.8,109.3 L558.2,109.6 L558.7,109.8 L559.1,110.1 L559.6,110.4 L560.1,110.7 L560.7,111.0 L561.3,111.2 L561.9,111.5 L562.6,111.8 L563.3,112.0 L564.1,112.2 L565.0,112.4 L565.9,112.5 L566.9,112.7 L567.9,112.8 L568.8,112.9 L569.7,113.0 L570.5,113.1 L571.1,113.2 L571.6,113.3 L572.4,109.1 L571.9,109.0 L571.2,108.8 L570.5,108.7 L569.6,108.5 L568.7,108.3 L567.8,108.1 L566.9,107.8 L566.1,107.6 L565.3,107.4 L564.7,107.2 L564.2,107.0 L563.7,106.9 L563.2,106.7 L562.7,106.5 L562.3,106.3 L561.8,106.1 L561.4,105.9 L561.0,105.7 L560.6,105.5 L560.2,105.3 L559.8,105.2 L559.4,105.0 L559.0,104.9 L558.7,104.7 L558.3,104.5 L557.9,104.3 L557.6,104.1 L557.3,103.9 L557.0,103.8 L556.7,103.7 Z" fill="rgb(0,0,255)" stroke="none"/>
<path d="M448.9,163.5 L448.9,164.2 L448.8,165.2 L448.8,166.3 L448.8,167.6 L448.7,169.0 L448.7,170.4 L448.6,171.9 L448.6,173.3 L448.6,174.6 L448.6,175.8 L448.6,176.9 L448.6,178.0 L448.6,179.1 L448.6,180.2 L448.6,181.2 L448.6,182.3 L448.7,183.3 L448.8,184.4 L448.9,185.5 L449.0,186.5 L449.2,187.5 L449.4,188.5 L449.6,189.5 L449.9,190.5 L450.1,191.4 L450.4,192.4 L450.7,193.3 L451.1,194.2 L451.5,195.1 L451.8,196.0 L452.3,196.8 L452.7,197.6 L453.2,198.4 L453.6,199.2 L454.1,199.9 L454.7,200.6 L455.2,201.3 L455.8,202.0 L456.4,202.7 L457.0,203.4 L457.6,204.1 L458.3,204.8 L459.0,205.5 L459.7,206.2 L460.5,206.9 L461.2,207.6 L462.0,208.3 L462.9,209.0 L463.7,209.7 L464.6,210.3 L465.4,210.9 L466.3,211.5 L467.2,212.1 L468.1,212.6 L469.0,213.2 L469.9,213.7 L470.9,214.2 L471.8,214.7 L472.8,215.2 L473.8,215.7 L474.8,216.2 L475.8,216.7 L476.9,217.2 L477.9,217.7 L479.0,218.1 L480.1,218.6 L481.2,219.1 L482.2,219.5 L483.3,219.9 L484.4,220.3 L485.4,220.7 L486.5,221.1 L487.6,221.5 L488.6,221.9 L489.7,222.2 L490.8,222.6 L491.8,222.9 L492.9,223.2 L494.0,223.5 L495.0,223.7 L496.1,224.0 L497.1,224.2 L498.1,224.4 L499.0,224.6 L500.0,224.8 L501.0,225.0 L502.1,225.1 L503.2,225.3 L504.3,225.4 L505.5,225.6 L506.9,225.7 L508.3,225.8 L509.7,225.9 L511.2,226.0 L512.8,226.1 L514.3,226.2 L515.8,226.2 L517.3,226.3 L518.8,226.4 L520.2,226.5 L521.4,226.6 L522.6,226.8 L523.6,226.9 L524.7,227.0 L525.7,227.2 L526.8,227.3 L528.1,227.5 L529.4,227.6 L531.0,227.8 L532.9,227.9 L535.2,228.1 L537.8,228.2 L540.8,228.4 L544.0,228.5 L547.2,228.7 L550.4,228.9 L553.4,229.0 L556.0,229.1 L558.3,229.2 L559.9,229.3 L560.1,226.7 L558.4,226.6 L556.2,226.5 L553.5,226.4 L550.5,226.2 L547.4,226.1 L544.1,225.9 L541.0,225.7 L538.0,225.6 L535.3,225.4 L533.1,225.3 L531.3,225.1 L529.7,225.0 L528.3,224.9 L527.1,224.7 L526.1,224.6 L525.0,224.4 L524.0,224.3 L522.9,224.1 L521.7,224.0 L520.4,223.9 L519.0,223.8 L517.5,223.7 L516.0,223.6 L514.5,223.5 L512.9,223.4 L511.4,223.3 L509.9,223.2 L508.5,223.1 L507.1,223.0 L505.9,222.8 L504.7,222.7 L503.6,222.5 L502.5,222.4 L501.5,222.2 L500.5,222.0 L499.6,221.8 L498.7,221.6 L497.7,221.4 L496.8,221.1 L495.8,220.9 L494.8,220.6 L493.8,220.3 L492.7,219.9 L491.7,219.6 L490.7,219.2 L489.7,218.9 L488.7,218.5 L487.6,218.1 L486.6,217.7 L485.6,217.3 L484.6,216.8 L483.6,216.4 L482.5,215.9 L481.5,215.4 L480.5,214.9 L479.5,214.4 L478.5,213.9 L477.5,213.4 L476.5,212.8 L475.6,212.3 L474.7,211.8 L473.8,211.2 L472.9,210.7 L472.1,210.1 L471.2,209.6 L470.4,209.0 L469.7,208.5 L468.9,207.9 L468.2,207.3 L467.4,206.7 L466.8,206.1 L466.1,205.4 L465.4,204.7 L464.8,204.0 L464.2,203.3 L463.6,202.6 L463.0,201.9 L462.4,201.2 L461.9,200.5 L461.4,199.8 L461.0,199.1 L460.6,198.5 L460.2,197.9 L459.8,197.2 L459.5,196.6 L459.2,196.0 L458.9,195.4 L458.6,194.7 L458.4,194.1 L458.2,193.4 L457.9,192.7 L457.7,192.0 L457.5,191.2 L457.3,190.5 L457.2,189.7 L457.0,188.9 L456.9,188.0 L456.8,187.2 L456.7,186.3 L456.6,185.5 L456.5,184.6 L456.4,183.8 L456.4,182.9 L456.3,182.0 L456.3,181.0 L456.3,180.0 L456.3,179.0 L456.3,178.0 L456.3,176.9 L456.2,175.8 L456.2,174.6 L456.2,173.3 L456.2,171.9 L456.1,170.5 L456.1,169.1 L456.1,167.7 L456.1,166.4 L456.1,165.3 L456.1,164.3 L456.1,163.5 Z" fill="rgb(0,0,255)" stroke="none"/>
<path d="M370.6,252.3 L370.6,253.1 L370.7,254.2 L370.8,255.5 L370.8,256.9 L370.9,258.4 L371.0,260.0 L371.1,261.6 L371.3,263.2 L371.4,264.8 L371.5,266.2 L371.6,267.6 L371.8,268.9 L371.9,270.2 L372.0,271.6 L372.2,273.0 L372.4,274.3 L372.5,275.7 L372.7,277.0 L373.0,278.3 L373.2,279.6 L373.6,280.7 L373.9,281.9 L374.2,282.9 L374.6,283.9 L375.0,284.9 L375.4,285.8 L375.8,286.7 L376.2,287.6 L376.6,288.5 L377.1,289.5 L377.6,290.5 L378.1,291.5 L378.6,292.6 L379.1,293.7 L379.7,294.9 L380.3,296.0 L380.9,297.1 L381.5,298.2 L382.2,299.2 L382.8,300.2 L383.5,301.2 L384.1,302.0 L384.8,302.9 L385.5,303.7 L386.2,304.4 L386.8,305.2 L387.5,305.9 L388.2,306.6 L388.9,307.2 L389.6,307.9 L390.3,308.6 L391.0,309.2 L391.8,309.8 L392.5,310.4 L393.3,311.0 L394.0,311.6 L394.8,312.2 L395.6,312.8 L396.4,313.3 L397.2,313.8 L398.0,314.3 L398.7,314.7 L399.4,315.2 L400.2,315.6 L401.0,316.1 L401.9,316.5 L402.8,316.9 L403.9,317.3 L405.1,317.8 L406.5,318.2 L408.0,318.6 L409.6,319.0 L411.4,319.5 L413.3,319.9 L415.3,320.4 L417.4,320.8 L419.5,321.2 L421.6,321.6 L423.7,322.0 L425.7,322.3 L427.7,322.6 L429.4,323.0 L431.0,323.3 L432.7,323.5 L434.5,323.8 L436.4,324.0 L438.6,324.3 L441.1,324.5 L444.0,324.7 L447.4,324.9 L451.7,325.0 L456.8,325.2 L462.6,325.3 L468.8,325.5 L475.1,325.6 L481.3,325.7 L487.1,325.7 L492.3,325.8 L496.7,325.9 L500.0,325.9 L500.0,323.3 L496.8,323.2 L492.4,323.1 L487.2,323.1 L481.3,323.0 L475.1,322.9 L468.8,322.7 L462.7,322.6 L456.9,322.5 L451.8,322.3 L447.6,322.1 L444.2,321.9 L441.3,321.7 L438.8,321.5 L436.7,321.3 L434.9,321.0 L433.2,320.8 L431.5,320.5 L429.9,320.2 L428.2,319.8 L426.3,319.5 L424.2,319.1 L422.2,318.7 L420.1,318.2 L418.0,317.7 L416.0,317.3 L414.1,316.8 L412.3,316.3 L410.5,315.8 L409.0,315.3 L407.5,314.8 L406.3,314.4 L405.3,313.9 L404.4,313.5 L403.7,313.1 L403.0,312.6 L402.4,312.2 L401.8,311.8 L401.1,311.3 L400.5,310.7 L399.8,310.2 L399.1,309.6 L398.4,309.1 L397.8,308.5 L397.1,307.9 L396.5,307.3 L395.9,306.7 L395.3,306.1 L394.8,305.4 L394.2,304.8 L393.6,304.1 L393.0,303.4 L392.4,302.7 L391.9,302.0 L391.4,301.3 L390.8,300.6 L390.3,299.9 L389.8,299.2 L389.3,298.4 L388.9,297.6 L388.4,296.8 L387.9,295.9 L387.4,295.0 L386.9,294.0 L386.4,292.9 L386.0,291.9 L385.5,290.8 L385.0,289.7 L384.6,288.6 L384.1,287.6 L383.7,286.5 L383.3,285.6 L382.9,284.7 L382.6,283.8 L382.3,283.0 L382.0,282.1 L381.7,281.3 L381.4,280.5 L381.2,279.7 L381.0,278.8 L380.8,277.8 L380.5,276.8 L380.3,275.7 L380.2,274.6 L380.0,273.4 L379.8,272.1 L379.7,270.8 L379.6,269.4 L379.4,268.1 L379.3,266.7 L379.1,265.4 L378.9,264.0 L378.7,262.5 L378.5,260.9 L378.3,259.3 L378.2,257.8 L378.0,256.3 L377.8,254.8 L377.7,253.6 L377.5,252.5 L377.4,251.7 Z" fill="rgb(0,0,255)" stroke="none"/>
<path d="M318.5,386.8 L318.5,387.5 L318.5,388.5 L318.6,389.6 L318.6,390.9 L318.7,392.3 L318.7,393.7 L318.8,395.2 L318.9,396.6 L319.0,398.0 L319.2,399.3 L319.4,400.5 L319.6,401.6 L319.8,402.8 L320.0,403.9 L320.3,405.0 L320.5,406.1 L320.8,407.1 L321.1,408.2 L321.4,409.2 L321.6,410.3 L322.0,411.3 L322.3,412.3 L322.6,413.3 L322.9,414.3 L323.3,415.3 L323.6,416.3 L324.0,417.3 L324.4,418.3 L324.8,419.3 L325.3,420.2 L325.7,421.2 L326.2,422.1 L326.7,423.0 L327.2,423.9 L327.7,424.8 L328.2,425.7 L328.8,426.6 L329.4,427.4 L330.0,428.3 L330.7,429.1 L331.4,430.0 L332.1,430.8 L332.9,431.6 L333.7,432.5 L334.5,433.3 L335.3,434.0 L336.2,434.8 L337.0,435.5 L337.9,436.2 L338.8,436.8 L339.6,437.4 L340.5,437.9 L341.3,438.4 L342.2,438.9 L343.1,439.3 L344.0,439.7 L344.9,440.1 L345.9,440.5 L346.9,440.8 L347.9,441.2 L349.0,441.5 L350.1,441.8 L351.2,442.1 L352.4,442.4 L353.6,442.7 L354.8,442.9 L356.0,443.1 L357.3,443.4 L358.6,443.6 L360.0,443.8 L361.3,443.9 L362.7,444.1 L364.0,444.3 L365.4,444.4 L366.8,444.5 L368.3,444.6 L369.9,444.7 L371.5,444.9 L373.3,445.0 L375.2,445.1 L377.2,445.3 L379.3,445.4 L381.4,445.6 L383.7,445.8 L386.0,445.9 L388.5,446.1 L391.1,446.3 L393.9,446.4 L396.8,446.6 L399.9,446.7 L403.5,446.8 L407.6,447.0 L412.1,447.1 L416.8,447.2 L421.5,447.3 L426.1,447.4 L430.4,447.5 L434.3,447.6 L437.5,447.7 L440.0,447.7 L440.0,445.1 L437.6,445.0 L434.3,445.0 L430.5,444.9 L426.2,444.8 L421.6,444.7 L416.8,444.6 L412.2,444.5 L407.7,444.3 L403.6,444.2 L400.1,444.1 L396.9,443.9 L394.0,443.8 L391.2,443.6 L388.6,443.5 L386.2,443.3 L383.9,443.1 L381.6,443.0 L379.5,442.8 L377.4,442.6 L375.4,442.5 L373.5,442.3 L371.7,442.2 L370.1,442.1 L368.5,442.0 L367.1,441.8 L365.7,441.7 L364.3,441.6 L363.0,441.4 L361.7,441.2 L360.4,441.0 L359.1,440.8 L357.8,440.6 L356.6,440.3 L355.4,440.1 L354.2,439.8 L353.1,439.5 L352.0,439.2 L350.9,438.9 L349.9,438.6 L348.9,438.2 L347.9,437.9 L347.0,437.5 L346.2,437.1 L345.3,436.8 L344.6,436.4 L343.8,436.0 L343.1,435.5 L342.3,435.0 L341.6,434.5 L340.8,434.0 L340.1,433.4 L339.4,432.7 L338.6,432.1 L337.9,431.3 L337.2,430.6 L336.5,429.8 L335.8,429.0 L335.1,428.2 L334.5,427.4 L333.9,426.7 L333.4,425.9 L332.9,425.1 L332.4,424.3 L331.9,423.5 L331.5,422.7 L331.1,421.8 L330.7,421.0 L330.3,420.1 L329.9,419.3 L329.5,418.4 L329.2,417.5 L328.9,416.6 L328.5,415.7 L328.3,414.8 L328.0,413.8 L327.7,412.9 L327.5,411.9 L327.2,410.9 L327.0,409.9 L326.8,408.9 L326.5,407.9 L326.3,406.9 L326.1,405.9 L325.9,404.9 L325.7,403.8 L325.5,402.8 L325.3,401.8 L325.1,400.7 L325.0,399.6 L324.8,398.5 L324.7,397.4 L324.5,396.1 L324.3,394.7 L324.2,393.3 L324.1,391.9 L323.9,390.5 L323.8,389.3 L323.7,388.1 L323.6,387.2 L323.5,386.4 Z" fill="rgb(0,0,255)" stroke="none"/>
<path d="M294.2,449.6 L294.2,450.8 L294.2,452.3 L294.2,454.2 L294.2,456.3 L294.2,458.5 L294.3,460.9 L294.3,463.2 L294.4,465.5 L294.4,467.8 L294.5,469.8 L294.7,471.7 L294.8,473.6 L295.0,475.5 L295.2,477.3 L295.5,479.2 L295.7,480.9 L295.9,482.7 L296.2,484.4 L296.4,486.1 L296.6,487.7 L296.9,489.2 L297.1,490.8 L297.4,492.3 L297.6,493.7 L297.8,495.2 L298.1,496.6 L298.4,498.0 L298.7,499.4 L299.1,500.8 L299.5,502.2 L299.9,503.5 L300.3,504.9 L300.8,506.2 L301.3,507.4 L301.9,508.7 L302.4,509.9 L303.0,511.1 L303.6,512.2 L304.2,513.3 L304.9,514.4 L305.6,515.4 L306.3,516.4 L307.0,517.4 L307.8,518.3 L308.6,519.1 L309.4,519.9 L310.2,520.7 L311.0,521.5 L311.9,522.2 L312.8,522.9 L313.6,523.6 L314.6,524.3 L315.5,525.0 L316.4,525.6 L317.4,526.2 L318.4,526.8 L319.5,527.4 L320.5,527.9 L321.6,528.4 L322.7,528.9 L323.8,529.4 L324.9,529.8 L326.1,530.2 L327.3,530.6 L328.5,530.9 L329.7,531.3 L331.0,531.6 L332.3,531.9 L333.6,532.2 L334.9,532.4 L336.2,532.7 L337.4,533.0 L338.7,533.2 L339.9,533.5 L341.2,533.7 L342.6,533.9 L344.2,534.1 L345.9,534.3 L347.8,534.5 L349.9,534.7 L352.4,534.9 L355.4,535.1 L358.8,535.3 L362.3,535.5 L365.9,535.7 L369.4,535.8 L372.7,536.0 L375.6,536.1 L378.1,536.2 L379.9,536.3 L380.1,533.7 L378.2,533.6 L375.7,533.5 L372.8,533.3 L369.5,533.2 L366.0,533.0 L362.4,532.8 L358.9,532.7 L355.6,532.5 L352.6,532.3 L350.1,532.1 L348.0,531.9 L346.2,531.7 L344.5,531.5 L343.0,531.3 L341.7,531.0 L340.4,530.8 L339.2,530.6 L338.0,530.3 L336.8,530.0 L335.5,529.8 L334.2,529.4 L332.9,529.1 L331.7,528.8 L330.5,528.5 L329.3,528.1 L328.2,527.8 L327.1,527.4 L326.0,527.0 L325.0,526.5 L323.9,526.1 L322.9,525.6 L321.9,525.1 L321.0,524.6 L320.1,524.0 L319.2,523.4 L318.3,522.9 L317.5,522.2 L316.6,521.6 L315.8,520.9 L315.0,520.3 L314.3,519.5 L313.6,518.8 L312.9,518.1 L312.2,517.3 L311.6,516.5 L310.9,515.7 L310.3,514.9 L309.8,514.0 L309.2,513.1 L308.7,512.2 L308.2,511.2 L307.7,510.2 L307.2,509.1 L306.8,508.0 L306.3,506.9 L305.9,505.7 L305.6,504.5 L305.2,503.3 L304.9,502.1 L304.5,500.8 L304.3,499.6 L304.0,498.3 L303.8,497.0 L303.7,495.7 L303.5,494.4 L303.3,493.0 L303.2,491.5 L303.1,490.0 L302.9,488.5 L302.8,486.9 L302.6,485.3 L302.4,483.6 L302.2,482.0 L302.1,480.2 L301.9,478.5 L301.8,476.7 L301.6,474.9 L301.5,473.1 L301.4,471.2 L301.3,469.4 L301.2,467.4 L301.0,465.3 L300.9,463.0 L300.8,460.7 L300.7,458.4 L300.7,456.1 L300.6,454.1 L300.5,452.2 L300.4,450.6 L300.4,449.4 Z" fill="rgb(0,0,255)" stroke="none"/>
<path d="M308.0,587.3 L436.0,587.3" stroke="rgb(0,0,255)" stroke-width="2.6"/>
</g>
<path d="M242.5,318.8 L1776.1,322.99" stroke="#ff0000" stroke-width="6.1" stroke-linecap="round" stroke-dasharray="28.9 19.1 3.9 19.7" stroke-dashoffset="-3.05" fill="none"/>
<path d="M242.7,832.8 L1019.38,826.66" stroke="#ff0000" stroke-width="5.3" stroke-linecap="round" stroke-dasharray="21.7 18.8 4.3 18.8 4.3 18.4" stroke-dashoffset="-2.65" fill="none"/>
<path d="M1019.38,826.66 L1819.9,820.32" stroke="#ff0000" stroke-width="6.2" stroke-linecap="round" stroke-dasharray="20.8 19.7 3.4 19.7 3.4 19.3" stroke-dashoffset="-3.1" fill="none"/>
<path d="M780.8,323 L782.8,375.2" stroke="#ff2a2a" stroke-width="3.2" fill="none"/>
<path d="M777.0999999999999,366.7 L788.5,366.7 L782.8,387.2 Z" fill="#ff0000"/>
<path d="M641,386 L641,442.3" stroke="#ff2a2a" stroke-width="3.2" fill="none"/>
<path d="M635.3,433.8 L646.7,433.8 L641,454.3 Z" fill="#ff0000"/>
<path d="M586.2,453 L586.2,519.3" stroke="#ff2a2a" stroke-width="3.2" fill="none"/>
<path d="M580.5,510.79999999999995 L591.9000000000001,510.79999999999995 L586.2,531.3 Z" fill="#ff0000"/>
<path d="M439.7,538 L439.7,578.2" stroke="#ff2a2a" stroke-width="3.2" fill="none"/>
<path d="M434.0,569.7 L445.4,569.7 L439.7,590.2 Z" fill="#ff0000"/>
<path d="M409.8,589 L409.8,673.2" stroke="#ff2a2a" stroke-width="3.2" fill="none"/>
<path d="M404.1,664.7 L415.5,664.7 L409.8,685.2 Z" fill="#ff0000"/>
<path d="M240.5,32 V1231" stroke="#505050" stroke-width="6.8" fill="none"/>
<path d="M241.3,32 V1231" stroke="#1c1c1c" stroke-width="4.6" fill="none"/>
<path d="M240,167.0 H267.2" stroke="#2b2b2b" stroke-width="4.8" fill="none"/>
<path d="M240,344.0 H267.2" stroke="#2b2b2b" stroke-width="4.8" fill="none"/>
<path d="M240,521.0 H267.2" stroke="#2b2b2b" stroke-width="4.8" fill="none"/>
<path d="M240,698.0 H267.2" stroke="#2b2b2b" stroke-width="4.8" fill="none"/>
<path d="M240,875.0 H267.2" stroke="#2b2b2b" stroke-width="4.8" fill="none"/>
<path d="M240,1052.0 H267.2" stroke="#2b2b2b" stroke-width="4.8" fill="none"/>
<path d="M240,1229.0 H267.2" stroke="#2b2b2b" stroke-width="4.8" fill="none"/>
<path d="M240,78.1 H254" stroke="#2b2b2b" stroke-width="4.8" fill="none"/>
<path d="M240,255.1 H254" stroke="#2b2b2b" stroke-width="4.8" fill="none"/>
<path d="M240,432.1 H254" stroke="#2b2b2b" stroke-width="4.8" fill="none"/>
<path d="M240,609.1 H254" stroke="#2b2b2b" stroke-width="4.8" fill="none"/>
<path d="M240,786.1 H254" stroke="#2b2b2b" stroke-width="4.8" fill="none"/>
<path d="M240,963.1 H254" stroke="#2b2b2b" stroke-width="4.8" fill="none"/>
<path d="M240,1140.1 H254" stroke="#2b2b2b" stroke-width="4.8" fill="none"/>
<g fill="#000">
<text x="143.6" y="189.7" font-size="60" stroke="#000" stroke-width="1.2">−</text><text transform="translate(176.6,186.6) scale(1.055,1)" font-size="70">2</text>
<text x="143.6" y="366.7" font-size="60" stroke="#000" stroke-width="1.2">−</text><text transform="translate(176.8,363.6) scale(1.04,1)" font-size="70">3</text>
<text x="143.6" y="543.7" font-size="60" stroke="#000" stroke-width="1.2">−</text><text transform="translate(178.6,540.6) scale(0.96,1)" font-size="70">4</text>
<text x="143.6" y="720.7" font-size="60" stroke="#000" stroke-width="1.2">−</text><text transform="translate(177.0,717.6) scale(1.03,1)" font-size="70">5</text>
<text x="143.6" y="897.7" font-size="60" stroke="#000" stroke-width="1.2">−</text><text transform="translate(176.6,894.6) scale(1.06,1)" font-size="70">6</text>
<text x="143.6" y="1074.7" font-size="60" stroke="#000" stroke-width="1.2">−</text><text transform="translate(176.2,1071.6) scale(1.09,1)" font-size="70">7</text>
<text x="143.6" y="1251.7" font-size="60" stroke="#000" stroke-width="1.2">−</text><text transform="translate(177.6,1248.6) scale(1.005,1)" font-size="70">8</text>
</g>
<text x="734" y="1357.5" font-size="67" font-weight="bold" textLength="484" lengthAdjust="spacingAndGlyphs" fill="#000">S-SWNTs (14.7)</text>
<text transform="translate(89,1151) rotate(-90)" font-size="70" font-weight="bold" textLength="953" lengthAdjust="spacingAndGlyphs" fill="#000">Energy (eV) relative to vacuum</text>
</g>
</svg>
</body></html>
